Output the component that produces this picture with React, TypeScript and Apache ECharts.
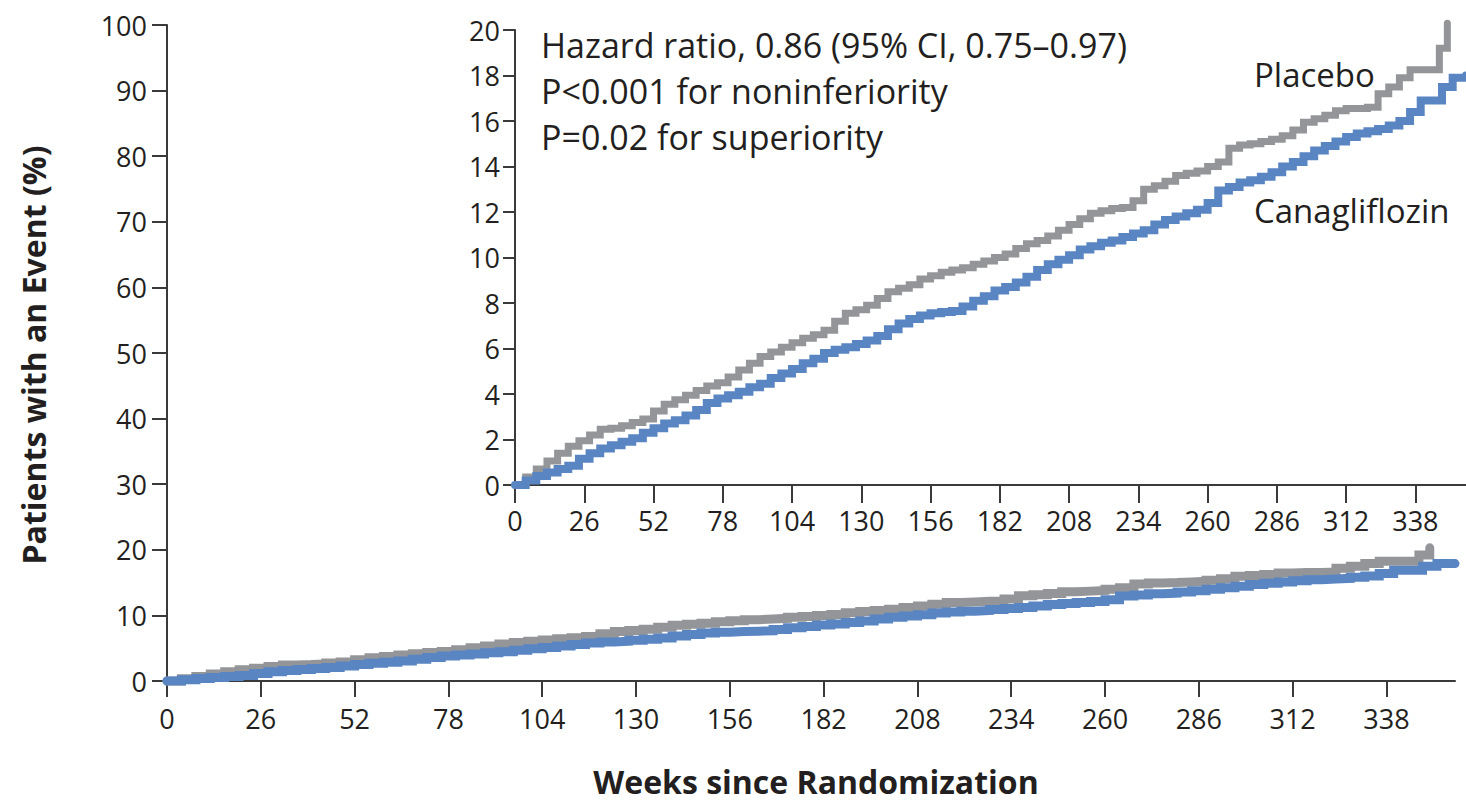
import { useEffect, useRef } from "react";
import * as echarts from "echarts";

// Week ticks shared by both panels
const weekTicks = [0, 26, 52, 78, 104, 130, 156, 182, 208, 234, 260, 286, 312, 338];
const mainPctTicks = [0, 10, 20, 30, 40, 50, 60, 70, 80, 90, 100];
const insetPctTicks = [0, 2, 4, 6, 8, 10, 12, 14, 16, 18, 20];

// Cumulative incidence (%) by week, placebo
const placeboWeeks = [
  0, 4, 8, 12, 16, 20, 24, 28, 32, 36, 40, 44, 48, 52, 56, 60, 64, 68, 72, 76, 80, 84, 88, 92, 96,
  100, 104, 108, 112, 116, 120, 124, 128, 132, 136, 140, 144, 148, 152, 156, 160, 164, 168, 172,
  176, 180, 184, 188, 192, 196, 200, 204, 208, 212, 216, 220, 224, 228, 232, 236, 240, 244, 248,
  252, 256, 260, 264, 268, 272, 276, 280, 284, 288, 292, 296, 300, 304, 308, 312, 316, 320, 324,
  328, 332, 336, 340, 344, 347, 350,
];
const placeboPct = [
  0, 0.35, 0.7, 1.05, 1.4, 1.7, 1.95, 2.2, 2.45, 2.5, 2.6, 2.75, 2.9, 3.25, 3.55, 3.75, 3.95, 4.15,
  4.35, 4.5, 4.75, 5.05, 5.35, 5.65, 5.85, 6.05, 6.25, 6.45, 6.6, 6.8, 7.2, 7.55, 7.7, 7.9, 8.2,
  8.5, 8.65, 8.8, 9.05, 9.2, 9.35, 9.45, 9.55, 9.7, 9.85, 10.0, 10.15, 10.4, 10.6, 10.75, 10.95,
  11.2, 11.45, 11.7, 11.95, 12.05, 12.15, 12.2, 12.5, 13.0, 13.15, 13.35, 13.6, 13.7, 13.8, 14.0,
  14.2, 14.8, 14.95, 15.0, 15.1, 15.2, 15.35, 15.6, 15.95, 16.1, 16.25, 16.45, 16.55, 16.55, 16.6,
  17.2, 17.5, 17.9, 18.25, 18.25, 18.25, 19.2, 20.3,
];

// Cumulative incidence (%) by week, canagliflozin
const canaWeeks = [
  0, 4, 8, 12, 16, 20, 24, 28, 32, 36, 40, 44, 48, 52, 56, 60, 64, 68, 72, 76, 80, 84, 88, 92, 96,
  100, 104, 108, 112, 116, 120, 124, 128, 132, 136, 140, 144, 148, 152, 156, 160, 164, 168, 172,
  176, 180, 184, 188, 192, 196, 200, 204, 208, 212, 216, 220, 224, 228, 232, 236, 240, 244, 248,
  252, 256, 260, 264, 268, 272, 276, 280, 284, 288, 292, 296, 300, 304, 308, 312, 316, 320, 324,
  328, 332, 336, 340, 344, 348, 352, 357,
];
const canaPct = [
  0, 0.2, 0.4, 0.55, 0.7, 0.85, 1.15, 1.4, 1.6, 1.75, 1.9, 2.05, 2.3, 2.5, 2.7, 2.85, 3.05, 3.3,
  3.6, 3.8, 3.95, 4.1, 4.3, 4.45, 4.7, 4.9, 5.1, 5.35, 5.55, 5.8, 5.95, 6.05, 6.2, 6.35, 6.55, 6.85,
  7.1, 7.3, 7.45, 7.55, 7.6, 7.65, 7.85, 8.1, 8.3, 8.55, 8.7, 8.9, 9.15, 9.45, 9.7, 9.9, 10.1,
  10.35, 10.5, 10.65, 10.75, 10.9, 11.05, 11.2, 11.45, 11.65, 11.8, 11.95, 12.1, 12.4, 12.95, 13.1,
  13.3, 13.4, 13.55, 13.75, 14.0, 14.2, 14.45, 14.7, 14.9, 15.1, 15.3, 15.45, 15.55, 15.65, 15.8,
  16.0, 16.4, 16.9, 16.9, 17.5, 17.9, 18.0,
];

const statLines = [
  "Hazard ratio, 0.86 (95% CI, 0.75\u20130.97)",
  "P<0.001 for noninferiority",
  "P=0.02 for superiority",
];

const FONT = "'Open Sans', 'Noto Sans', sans-serif";
const INK = "#231f20";
const AXIS = "#3a3a3a";
const GRAY = "#939598";
const BLUE = "#5a85c3";
const WEEK_MAX = 357;

const pairs = (xs: number[], ys: number[]) => xs.map((x, i) => [x, ys[i]]);

export default function App() {
  const ref = useRef<HTMLDivElement>(null);

  useEffect(() => {
    if (!ref.current) return;
    const chart = echarts.init(ref.current, undefined, { renderer: "svg" });

    const axisLine = { show: true, lineStyle: { color: AXIS, width: 2 } };
    const label = (margin: number) => ({
      color: INK,
      fontFamily: FONT,
      fontSize: 27,
      margin,
    });

    const lineSeries = (name: string, data: number[][], color: string, idx: number, width: number) => ({
      name,
      type: "line",
      step: "end",
      data,
      xAxisIndex: idx,
      yAxisIndex: idx,
      showSymbol: false,
      symbol: "none",
      clip: false,
      lineStyle: { color, width, cap: "round", join: "miter" },
      silent: true,
      z: color === BLUE ? 3 : 2,
    });

    chart.setOption({
      animation: false,
      backgroundColor: "#ffffff",
      grid: [
        { left: 167, top: 25, width: 1288, height: 656, containLabel: false },
        { left: 515, top: 30, width: 951, height: 455, containLabel: false },
      ],
      xAxis: [
        {
          type: "value",
          gridIndex: 0,
          min: 0,
          max: WEEK_MAX,
          axisLine,
          axisTick: { show: true, length: 16, lineStyle: { color: AXIS, width: 2 }, customValues: weekTicks },
          axisLabel: { ...label(24), customValues: weekTicks },
          splitLine: { show: false },
        },
        {
          type: "value",
          gridIndex: 1,
          min: 0,
          max: WEEK_MAX,
          axisLine,
          axisTick: { show: true, length: 18, lineStyle: { color: AXIS, width: 2 }, customValues: weekTicks },
          axisLabel: { ...label(22), customValues: weekTicks },
          splitLine: { show: false },
        },
      ],
      yAxis: [
        {
          type: "value",
          gridIndex: 0,
          min: 0,
          max: 100,
          axisLine,
          axisTick: { show: true, length: 15, lineStyle: { color: AXIS, width: 2 }, customValues: mainPctTicks },
          axisLabel: { ...label(20), customValues: mainPctTicks },
          splitLine: { show: false },
        },
        {
          type: "value",
          gridIndex: 1,
          min: 0,
          max: 20,
          axisLine,
          axisTick: { show: true, length: 12, lineStyle: { color: AXIS, width: 2 }, customValues: insetPctTicks },
          axisLabel: { ...label(15), customValues: insetPctTicks },
          splitLine: { show: false },
        },
      ],
      series: [
        lineSeries("Placebo", pairs(placeboWeeks, placeboPct), GRAY, 0, 9),
        lineSeries("Canagliflozin", pairs(canaWeeks, canaPct), BLUE, 0, 9),
        lineSeries("Placebo", pairs(placeboWeeks, placeboPct), GRAY, 1, 7),
        lineSeries("Canagliflozin", pairs(canaWeeks, canaPct), BLUE, 1, 8),
      ],
      graphic: [
        {
          type: "text",
          x: 33,
          y: 355,
          rotation: Math.PI / 2,
          style: {
            text: "Patients with an Event (%)",
            fill: INK,
            font: `bold 32px ${FONT}`,
            textAlign: "center",
            textVerticalAlign: "middle",
          },
        },
        {
          type: "text",
          x: 816,
          y: 781,
          style: {
            text: "Weeks since Randomization",
            fill: INK,
            font: `bold 32px ${FONT}`,
            textAlign: "center",
            textVerticalAlign: "middle",
          },
        },
        ...statLines.map((t, i) => ({
          type: "text",
          x: 541,
          y: 45 + i * 46,
          style: {
            text: t,
            fill: INK,
            font: `34px ${FONT}`,
            textAlign: "left",
            textVerticalAlign: "middle",
          },
        })),
        {
          type: "text",
          x: 1254,
          y: 74,
          style: { text: "Placebo", fill: INK, font: `33px ${FONT}`, textAlign: "left", textVerticalAlign: "middle" },
        },
        {
          type: "text",
          x: 1254,
          y: 210,
          style: { text: "Canagliflozin", fill: INK, font: `33px ${FONT}`, textAlign: "left", textVerticalAlign: "middle" },
        },
      ],
    });

    return () => chart.dispose();
  }, []);

  return (
    <div
      ref={ref}
      style={{ position: "absolute", left: 0, top: 0, width: 1466, height: 803, background: "#fff" }}
    />
  );
}
